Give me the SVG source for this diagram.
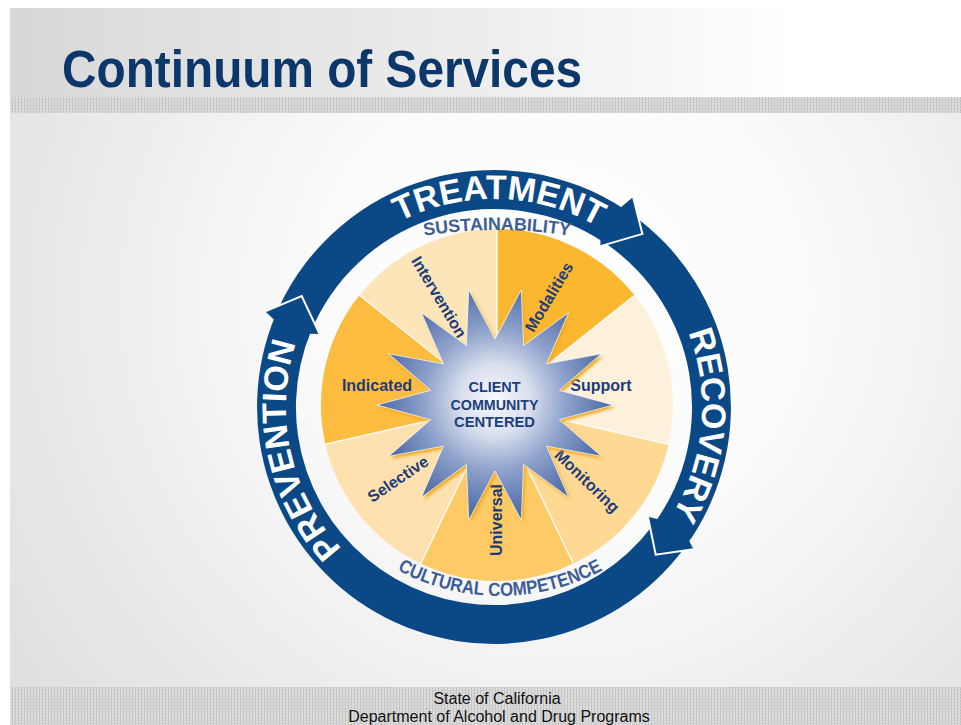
<svg xmlns="http://www.w3.org/2000/svg" width="961" height="725" viewBox="0 0 961 725">
<defs>
<style>
.ring{font-family:"Liberation Sans",Arial,sans-serif;font-weight:bold;font-size:34px;fill:#ffffff}
.arc{font-family:"Liberation Sans",Arial,sans-serif;font-weight:bold;fill:#3d5d96}
.lbl{font-family:"Liberation Sans",Arial,sans-serif;font-weight:bold;font-size:16px;fill:#1c3c7a;text-anchor:middle}
.hub{font-family:"Liberation Sans",Arial,sans-serif;font-weight:bold;font-size:15.5px;fill:#1d3f7c;text-anchor:middle}
.band{fill:#0b4886}
.head{fill:#0b4886}
.edge{fill:none;stroke:#ffffff;stroke-width:2;stroke-linejoin:miter}
.div{stroke:#ffffff;stroke-width:1.5;fill:none;opacity:0.85}
.foot{font-family:"Liberation Sans",Arial,sans-serif;font-size:16px;fill:#111111;text-anchor:middle}
</style>
<linearGradient id="titleBg" x1="10" y1="0" x2="961" y2="0" gradientUnits="userSpaceOnUse">
<stop offset="0" stop-color="#d8d8d8"/>
<stop offset="0.55" stop-color="#f0f0f0"/>
<stop offset="0.82" stop-color="#ffffff"/>
<stop offset="1" stop-color="#ffffff"/>
</linearGradient>
<radialGradient id="bodyBg" cx="560" cy="300" r="680" gradientUnits="userSpaceOnUse">
<stop offset="0" stop-color="#ffffff"/>
<stop offset="0.35" stop-color="#fbfbfb"/>
<stop offset="1" stop-color="#dedede"/>
</radialGradient>
<pattern id="mesh" x="0" y="0" width="3" height="3" patternUnits="userSpaceOnUse">
<rect width="3" height="3" fill="#dedede"/>
<rect width="1" height="3" fill="#c2c2c2"/>
<rect width="3" height="1" fill="#cfcfcf"/>
</pattern>
<radialGradient id="starG" cx="495" cy="400" r="118" gradientUnits="userSpaceOnUse">
<stop offset="0" stop-color="#f8f9fc"/>
<stop offset="0.3" stop-color="#d9dfee"/>
<stop offset="0.6" stop-color="#8ea2cb"/>
<stop offset="1" stop-color="#4a68a4"/>
</radialGradient>
<filter id="blur" x="-20%" y="-20%" width="140%" height="140%">
<feGaussianBlur stdDeviation="1.6"/>
</filter>
<polygon id="starShape" points="495,339 521.26,289.96 523.64,345.54 568.57,312.74 546.6,363.85 601.31,353.8 559.35,390.31 613,405 559.35,419.69 601.31,456.2 546.6,446.15 568.57,497.26 523.64,464.46 521.26,520.04 495,471 468.74,520.04 466.36,464.46 421.43,497.26 443.4,446.15 388.69,456.2 430.65,419.69 377,405 430.65,390.31 388.69,353.8 443.4,363.85 421.43,312.74 466.36,345.54 468.74,289.96"/>
<path id="p-treat" d="M287.32,383.64 A208,208 0 0 1 701.6,394.12"/>
<path id="p-recov" d="M530.48,202.22 A208,208 0 0 1 493.64,615"/>
<path id="p-prev" d="M521.33,613.2 A208,208 0 0 1 431.29,208.68"/>
<path id="p-sust" d="M377,246.3 A450,450 0 0 1 617,246.3"/>
<path id="p-cult" d="M346.6,532.4 A217,217 0 0 0 653.4,532.4"/>
</defs>

<g id="background">
<rect x="0" y="0" width="961" height="725" fill="#ffffff"/>
<rect x="10" y="8" width="951" height="89" fill="url(#titleBg)"/>
<rect x="10" y="113" width="951" height="574" fill="url(#bodyBg)"/>
<rect x="10" y="97" width="951" height="16" fill="url(#mesh)"/>
<rect x="10" y="687" width="951" height="38" fill="url(#mesh)"/>
</g>

<g id="title">
<text x="62" y="87" font-family="Liberation Sans, Arial, sans-serif" font-weight="bold" font-size="51" fill="#0c376b" textLength="520" lengthAdjust="spacingAndGlyphs">Continuum of Services</text>
</g>

<g id="pie">
<g id="slice-modalities">
<path d="M497,405 L497,229 A176,176 0 0 1 634.6,295.27 Z" fill="#fcb731"/>
<text class="lbl" transform="translate(549,297) rotate(-59)" x="0" y="5.5">Modalities</text>
</g>
<g id="slice-support">
<path d="M497,405 L634.6,295.27 A176,176 0 0 1 668.59,444.16 Z" fill="#fef1dc"/>
<text class="lbl" x="601" y="391">Support</text>
</g>
<g id="slice-monitoring">
<path d="M497,405 L668.59,444.16 A176,176 0 0 1 573.36,563.57 Z" fill="#fed993"/>
<text class="lbl" transform="translate(587,481) rotate(44)" x="0" y="5.5">Monitoring</text>
</g>
<g id="slice-universal">
<path d="M497,405 L573.36,563.57 A176,176 0 0 1 420.64,563.57 Z" fill="#fdca66"/>
<text class="lbl" transform="translate(496,520) rotate(-90)" x="0" y="5.5">Universal</text>
</g>
<g id="slice-selective">
<path d="M497,405 L420.64,563.57 A176,176 0 0 1 325.41,444.16 Z" fill="#fee1ae"/>
<text class="lbl" transform="translate(398,479) rotate(-34)" x="0" y="5.5">Selective</text>
</g>
<g id="slice-indicated">
<path d="M497,405 L325.41,444.16 A176,176 0 0 1 359.4,295.27 Z" fill="#fcbc40"/>
<text class="lbl" x="377" y="391">Indicated</text>
</g>
<g id="slice-intervention">
<path d="M497,405 L359.4,295.27 A176,176 0 0 1 497,229 Z" fill="#fde5ba"/>
<text class="lbl" transform="translate(439,297) rotate(59)" x="0" y="5.5">Intervention</text>
</g>
<path class="div" d="M497,405 L497,229 M497,405 L634.6,295.27 M497,405 L668.59,444.16 M497,405 L573.36,563.57 M497,405 L420.64,563.57 M497,405 L325.41,444.16 M497,405 L359.4,295.27"/>
</g>

<g id="hub">
<use href="#starShape" transform="translate(2,2.5)" fill="#f2a91f" filter="url(#blur)"/>
<use href="#starShape" fill="url(#starG)" stroke="#ffffff" stroke-opacity="0.7" stroke-width="1"/>
<text class="hub" x="494.5" y="391.5" textLength="52" lengthAdjust="spacingAndGlyphs">CLIENT</text>
<text class="hub" x="494.5" y="409.5" textLength="88" lengthAdjust="spacingAndGlyphs">COMMUNITY</text>
<text class="hub" x="494.5" y="426.5" textLength="81" lengthAdjust="spacingAndGlyphs">CENTERED</text>
</g>

<g id="connectors">
<path class="band" d="M279.2,306.8 A237,237 0 0 1 624.8,209.4 L603.3,241.9 A198,198 0 0 0 314.6,323.3 Z"/>
<path class="band" d="M629.9,212.9 A237,237 0 0 1 686.9,544.6 L655.2,522 A198,198 0 0 0 607.6,244.8 Z"/>
<path class="band" d="M683.3,549.6 A237,237 0 0 1 275.4,315.5 L311.3,330.6 A198,198 0 0 0 652.1,526.2 Z"/>
<polygon class="head" points="621.3,207.1 633.1,196.9 642.4,233.9 600.5,246.1 600.4,240"/>
<polyline class="edge" points="633.1,196.9 642.4,233.9 600.5,246.1"/>
<polygon class="head" points="689.3,541.2 693.5,549.3 655.7,554.7 647.9,516.8 657.2,519.1"/>
<polyline class="edge" points="693.5,549.3 655.7,554.7 647.9,516.8"/>
<polygon class="head" points="273.8,319.4 265.2,311.3 301.7,296 319.6,334.1 310,333.8"/>
<polyline class="edge" points="265.2,311.3 301.7,296 319.6,334.1"/>
</g>

<g id="ring-labels">
<text class="ring"><textPath href="#p-treat" startOffset="50%" text-anchor="middle">TREATMENT</textPath></text>
<text class="ring"><textPath href="#p-recov" startOffset="50%" text-anchor="middle">RECOVERY</textPath></text>
<text class="ring"><textPath href="#p-prev" startOffset="50%" text-anchor="middle">PREVENTION</textPath></text>
<text class="arc" font-size="18"><textPath href="#p-sust" startOffset="50%" text-anchor="middle" textLength="146" lengthAdjust="spacingAndGlyphs">SUSTAINABILITY</textPath></text>
<text class="arc" font-size="19"><textPath href="#p-cult" startOffset="50%" text-anchor="middle" textLength="214" lengthAdjust="spacingAndGlyphs">CULTURAL COMPETENCE</textPath></text>
</g>

<g id="footer">
<text class="foot" x="497" y="704">State of California</text>
<text class="foot" x="499" y="721.5">Department of Alcohol and Drug Programs</text>
</g>
</svg>
